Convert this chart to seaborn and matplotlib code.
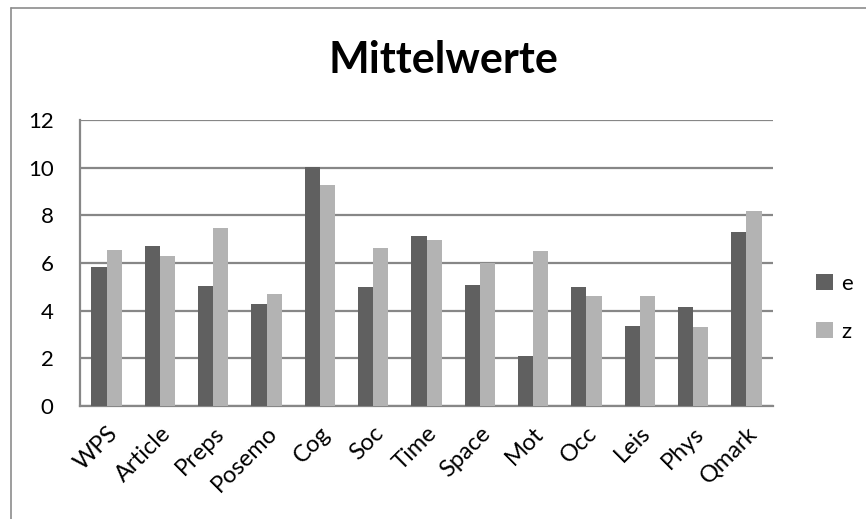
import pandas as pd
import matplotlib.pyplot as plt
import seaborn as sns
from matplotlib.lines import Line2D

categories = ['WPS', 'Article', 'Preps', 'Posemo', 'Cog', 'Soc', 'Time',
              'Space', 'Mot', 'Occ', 'Leis', 'Phys', 'Qmark']
e_values = [5.82, 6.71, 5.02, 4.28, 10.02, 4.99, 7.13, 5.06, 2.08, 4.98, 3.37, 4.15, 7.29]
z_values = [6.53, 6.29, 7.46, 4.71, 9.27, 6.63, 6.97, 6.01, 6.52, 4.63, 4.63, 3.30, 8.18]
series = ['e', 'z']
colors = ['#606060', '#b3b3b3']


def generate_plot():
    df = pd.DataFrame({
        'cat': categories * 2,
        'val': e_values + z_values,
        'series': ['e'] * len(categories) + ['z'] * len(categories),
    })

    sns.set_style('white')
    plt.rcParams['font.family'] = ['Lato', 'DejaVu Sans']
    plt.rcParams['text.color'] = 'black'
    plt.rcParams['xtick.color'] = 'black'
    plt.rcParams['ytick.color'] = 'black'

    fig = plt.figure(figsize=(8.66, 5.19), dpi=100)
    ax = fig.add_axes([0.0924, 0.2177, 0.8002, 0.5511])

    sns.barplot(data=df, x='cat', y='val', hue='series', hue_order=series,
                palette=colors, width=0.57, linewidth=0, saturation=1,
                ax=ax, zorder=3)

    ax.set_ylim(0, 12)
    ax.set_yticks(range(0, 13, 2))
    ax.set_xlim(-0.5, len(categories) - 0.5)
    ax.yaxis.grid(True, color='#878787', linewidth=1.6, zorder=0)
    ax.set_axisbelow(True)
    for s in ['top', 'right']:
        ax.spines[s].set_visible(False)
    for s in ['left', 'bottom']:
        ax.spines[s].set_color('#878787')
        ax.spines[s].set_linewidth(1.6)
    ax.tick_params(axis='y', length=0, labelsize=16, pad=19, labelcolor='black')
    ax.tick_params(axis='x', length=0, labelsize=17, pad=12, labelcolor='black')
    plt.setp(ax.get_xticklabels(), rotation=45, ha='right', rotation_mode='anchor')
    ax.set_xlabel('')
    ax.set_ylabel('')

    handles, labels = ax.get_legend_handles_labels()
    leg = ax.legend(handles, labels, loc='center left', bbox_to_anchor=(1.033, 0.343),
                    frameon=False, fontsize=16, handlelength=0.75, handleheight=0.75,
                    handletextpad=0.4, labelspacing=1.25)
    for t in leg.get_texts():
        t.set_color('black')

    fig.text(0.512, 0.884, 'Mittelwerte', ha='center', va='center',
             fontsize=31, fontweight='bold', color='black')

    # outer chart border (top and left only visible)
    fig.add_artist(Line2D([11 / 866, 1], [1 - 8 / 519, 1 - 8 / 519],
                          transform=fig.transFigure, color='#8c8c8c', linewidth=1.2))
    fig.add_artist(Line2D([11 / 866, 11 / 866], [0, 1 - 8 / 519],
                          transform=fig.transFigure, color='#8c8c8c', linewidth=1.2))

    fig.savefig('out.png', dpi=100)


if __name__ == "__main__":
    generate_plot()
